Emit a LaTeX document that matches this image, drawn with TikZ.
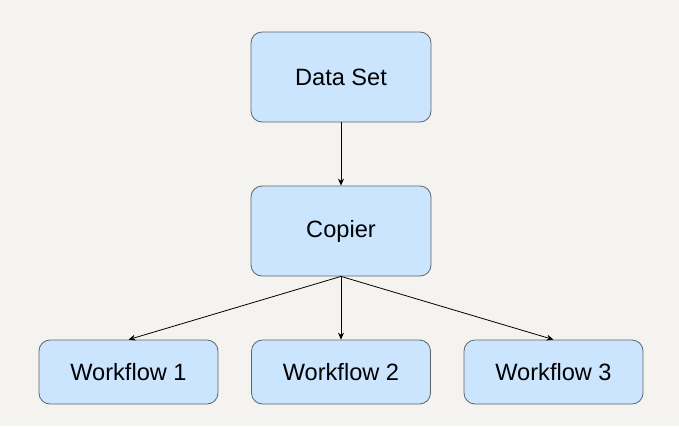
\documentclass[tikz,border=0pt]{standalone}
\usepackage{fontspec}
\setmainfont{Liberation Sans}
\usetikzlibrary{arrows.meta}
\definecolor{pagebg}{HTML}{F5F3EF}
\definecolor{boxfill}{HTML}{CCE5FF}
\definecolor{boxline}{HTML}{5F6368}
\begin{document}
\begin{tikzpicture}[x=1pt,y=-1pt,
  box/.style={draw=boxline, fill=boxfill, line width=0.8pt, rounded corners=11pt,
    minimum width=180pt, inner sep=0pt, font=\fontsize{23.6}{28}\selectfont},
  tall/.style={box, minimum height=90pt},
  short/.style={box, minimum width=179pt, minimum height=64pt},
  link/.style={draw=black, line width=0.8pt, -{Stealth[length=7pt,width=6pt]}}]
  \fill[pagebg] (0,0) rectangle (679,426);
  \useasboundingbox (0,0) rectangle (679,426);
  \node[tall] (data) at (341,77) {Data Set};
  \node[tall] (copier) at (341,231) {Copier};
  \node[short] (wf1) at (128.5,372) {Workflow 1};
  \node[short] (wf2) at (341,372) {Workflow 2};
  \node[short] (wf3) at (553.5,372) {Workflow 3};
  \draw[link] (data.south) -- (copier.north);
  \draw[link] (copier.south) -- (wf1.north);
  \draw[link] (copier.south) -- (wf2.north);
  \draw[link] (copier.south) -- (wf3.north);
\end{tikzpicture}
\end{document}
